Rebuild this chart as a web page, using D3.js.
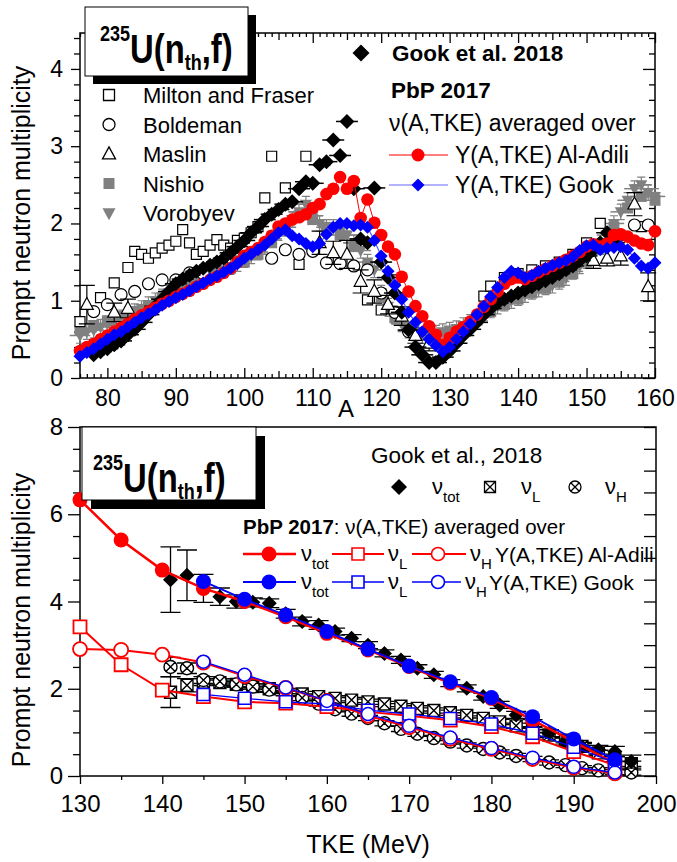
<!DOCTYPE html>
<html>
<head>
<meta charset="utf-8">
<script src="https://cdn.jsdelivr.net/npm/d3@7/dist/d3.min.js"></script>
<style>
  body { margin: 0; background: #fff; }
</style>
</head>
<body>
<svg id="chart" width="677" height="862"></svg>
<script>
// ---------- upper panel: nu versus mass number A ----------
var massPbP = d3.range(76, 161);
var nuAlAdili = [0.35,0.40,0.44,0.50,0.55,0.60,0.65,0.70,0.76,0.81,
  0.86,0.91,0.96,1.00,1.05,1.09,1.13,1.18,1.22,1.27,
  1.31,1.36,1.42,1.50,1.58,1.63,1.68,1.76,1.84,1.96,
  2.00,2.05,2.08,2.12,2.20,2.25,2.38,2.45,2.60,2.45,
  2.55,2.07,2.31,2.01,1.85,1.70,1.60,1.31,1.12,0.93,
  0.80,0.67,0.56,0.43,0.52,0.60,0.66,0.73,0.82,0.92,
  1.02,1.12,1.22,1.28,1.30,1.28,1.32,1.37,1.41,1.45,
  1.49,1.53,1.58,1.63,1.70,1.73,1.70,1.74,1.85,1.86,
  1.83,1.78,1.74,1.72,1.90];
var nuGookYield = [0.28,0.33,0.38,0.44,0.50,0.56,0.60,0.66,0.72,0.78,
  0.83,0.88,0.94,0.99,1.04,1.08,1.13,1.18,1.23,1.28,
  1.32,1.37,1.42,1.48,1.55,1.60,1.66,1.72,1.80,1.88,
  1.92,1.84,1.80,1.74,1.70,1.74,1.86,1.95,2.00,2.00,
  1.97,1.98,1.95,1.78,1.58,1.38,1.20,1.02,0.85,0.72,
  0.60,0.50,0.42,0.34,0.40,0.50,0.60,0.70,0.82,0.93,
  1.05,1.17,1.30,1.38,1.36,1.30,1.33,1.38,1.42,1.46,
  1.49,1.52,1.57,1.65,1.71,1.72,1.66,1.68,1.69,1.70,
  1.66,1.55,1.45,1.42,1.49];

var massGook = d3.range(78, 155);
var nuGook = [0.30,0.34,0.38,0.43,0.48,0.56,0.63,0.72,0.82,0.93,
  1.02,1.12,1.22,1.28,1.33,1.38,1.42,1.46,1.50,1.55,
  1.62,1.70,1.78,1.88,1.96,2.05,2.12,2.18,2.25,2.28,
  2.45,2.54,2.52,2.76,2.80,3.08,2.88,3.32,2.45,1.80,
  1.75,2.46,1.50,1.30,1.10,0.85,0.62,0.40,0.30,0.20,
  0.20,0.27,0.35,0.45,0.55,0.63,0.72,0.82,0.90,0.97,
  1.02,1.06,1.10,1.14,1.18,1.22,1.26,1.30,1.35,1.40,
  1.45,1.52,1.58,1.66,1.75,1.88,1.75];

var massVorobyev = d3.range(76, 161);
var nuVorobyev = [0.55,0.60,0.62,0.66,0.70,0.74,0.78,0.82,0.86,0.90,
  0.95,1.00,1.05,1.10,1.14,1.18,1.22,1.26,1.30,1.33,
  1.37,1.40,1.44,1.48,1.53,1.58,1.63,1.70,1.80,1.88,
  1.95,2.05,2.15,2.25,2.10,2.00,1.95,1.95,1.90,1.85,
  1.75,1.65,1.50,1.40,1.10,0.93,0.80,0.70,0.62,0.58,
  0.55,0.55,0.58,0.60,0.62,0.64,0.68,0.72,0.78,0.84,
  0.88,0.93,0.97,1.00,1.04,1.08,1.12,1.15,1.18,1.20,
  1.25,1.30,1.38,1.45,1.52,1.60,1.70,1.85,2.00,2.15,
  2.30,2.45,2.50,2.40,2.35];
var errVorobyev = 0.1;

var massNishio = d3.range(76, 161, 2);
var nuNishio = [0.62,0.68,0.74,0.80,0.86,0.92,1.02,1.12,1.20,1.28,
  1.35,1.42,1.50,1.60,1.75,1.90,2.10,2.05,1.95,1.85,
  1.70,1.45,1.05,0.78,0.62,0.55,0.55,0.60,0.66,0.75,
  0.86,0.95,1.02,1.10,1.16,1.24,1.35,1.50,1.68,1.95,
  2.20,2.35,2.30];

var massMilton = [76,79,81,83,84,85,86,87,88,89,90,91,92,93,94,95,96,97,98,99,
  100,101,102,103,104,106,108,109,118,120,122,135,136,138,140,142,144,146,148,150,152,158];
var nuMilton = [0.73,1.04,1.23,1.43,1.64,1.60,1.55,1.62,1.68,1.72,1.77,1.92,1.75,1.60,1.64,1.72,1.79,1.72,1.68,1.78,
  1.81,1.88,1.96,2.33,2.87,2.46,1.47,2.87,1.01,0.88,1.27,1.06,1.19,1.30,1.35,1.40,1.45,1.50,1.60,1.75,2.00,1.96];

var massBoldeman = [78,80,82,84,86,88,90,92,94,104,106,108,110,112,114,116,118,120,122,124,155,157,159];
var nuBoldeman = [0.86,0.95,1.08,1.12,1.22,1.27,1.27,1.36,1.35,1.55,1.66,1.60,1.64,1.49,1.48,1.45,1.40,1.10,0.85,0.60,1.85,1.98,1.98];

var massMaslin = [77,81,83,111,113,115,117,119,121,123,125,127,151,153,155,157,159];
var nuMaslin = [0.95,0.85,0.90,1.75,1.62,1.60,1.25,1.12,0.95,0.80,0.55,0.45,1.52,1.55,1.58,2.25,1.18];
var errMaslin = [0.25,0.12,0.12,0.15,0.15,0.18,0.15,0.15,0.12,0.12,0.10,0.10,0.10,0.10,0.12,0.15,0.18];

var massTicks = d3.range(80, 161, 10);
var nuTicksTop = [0, 1, 2, 3, 4];

// ---------- lower panel: nu versus TKE ----------
var tkeAlAdili = d3.range(130, 196, 5);
var totAlAdili = [6.33,5.41,4.72,4.30,4.00,3.65,3.27,2.89,2.51,2.13,1.78,1.28,0.79,0.29];
var lightAlAdili = [3.42,2.55,1.97,1.82,1.70,1.67,1.59,1.47,1.38,1.28,1.13,0.90,0.56,0.25];
var heavyAlAdili = [2.91,2.89,2.78,2.60,2.29,2.02,1.72,1.38,1.12,0.85,0.62,0.39,0.19,0.06];

var tkeGookY = d3.range(145, 196, 5);
var totGookY = [4.46,4.05,3.69,3.31,2.91,2.52,2.16,1.80,1.36,0.85,0.37];
var lightGookY = [1.87,1.78,1.70,1.65,1.51,1.42,1.32,1.19,0.98,0.66,0.31];
var heavyGookY = [2.62,2.32,2.03,1.72,1.42,1.15,0.88,0.64,0.42,0.21,0.08];

var tkeExp = d3.range(141, 198, 2);
var totExp = [4.50,4.60,4.30,4.11,4.00,3.98,3.96,3.72,3.54,3.46,
  3.31,3.16,3.00,2.81,2.66,2.47,2.32,2.13,2.01,1.82,
  1.63,1.40,1.21,0.98,0.79,0.67,0.60,0.56,0.33];
var errTotExp = [0.75,0.58,0.32,0.20,0.15,0.10,0.10,0.10,0.10,0.10,
  0.08,0.08,0.08,0.08,0.08,0.08,0.08,0.08,0.08,0.08,
  0.08,0.08,0.08,0.08,0.08,0.10,0.10,0.12,0.15];
var lightExp = [1.92,2.08,2.15,2.14,2.10,2.05,2.00,1.95,1.88,1.82,
  1.78,1.74,1.70,1.65,1.60,1.55,1.50,1.45,1.39,1.32,
  1.24,1.15,1.05,0.94,0.82,0.68,0.53,0.39,0.28];
var heavyExp = [2.50,2.47,2.20,2.17,2.10,2.05,1.98,1.90,1.79,1.66,
  1.53,1.43,1.33,1.21,1.08,0.97,0.87,0.79,0.70,0.62,
  0.54,0.46,0.39,0.31,0.25,0.18,0.13,0.09,0.08];
var errLightExp = [0.35,0.15,0.08,0.06,0.06,0.06,0.06,0.06,0.06,0.06,
  0.06,0.06,0.06,0.06,0.06,0.06,0.06,0.06,0.06,0.06,
  0.06,0.06,0.06,0.06,0.06,0.06,0.06,0.06,0.06];
var errHeavyExp = [0.22,0.12,0.08,0.06,0.06,0.06,0.06,0.06,0.06,0.06,
  0.06,0.06,0.06,0.06,0.06,0.06,0.06,0.06,0.06,0.06,
  0.06,0.06,0.06,0.06,0.06,0.06,0.06,0.06,0.06];

var tkeTicks = d3.range(130, 201, 10);
var nuTicksBottom = [0, 2, 4, 6, 8];

// ---------- setup ----------
var FONT = '"Liberation Sans", Arial, Helvetica, sans-serif';
var svg = d3.select("#chart").attr("font-family", FONT);
var RED = "#ff0000", BLUE = "#0000ff", GRAY = "#808080";

var xA = d3.scaleLinear().domain([76, 160]).range([80, 655]);
var yA = d3.scaleLinear().domain([0, 4.465]).range([378, 33]);
var xT = d3.scaleLinear().domain([130, 200]).range([80, 656]);
var yT = d3.scaleLinear().domain([0, 8]).range([776, 427]);

function shape(type, s) {
  if (type == "square") return "M" + (-s) + "," + (-s) + "H" + s + "V" + s + "H" + (-s) + "Z";
  if (type == "diamond") return "M0," + (-s) + "L" + s + ",0L0," + s + "L" + (-s) + ",0Z";
  if (type == "up") return "M0," + (-s * 1.1) + "L" + s + "," + (s * 0.75) + "L" + (-s) + "," + (s * 0.75) + "Z";
  if (type == "down") return "M0," + (s * 1.1) + "L" + s + "," + (-s * 0.75) + "L" + (-s) + "," + (-s * 0.75) + "Z";
  if (type == "circle") return "M" + s + ",0A" + s + "," + s + " 0 1,1 " + (-s) + ",0A" + s + "," + s + " 0 1,1 " + s + ",0Z";
  if (type == "xsquare") return shape("square", s) + "M" + (-s) + "," + (-s) + "L" + s + "," + s + "M" + s + "," + (-s) + "L" + (-s) + "," + s;
  if (type == "xcircle") { var c = s * 0.707; return shape("circle", s) + "M" + (-c) + "," + (-c) + "L" + c + "," + c + "M" + c + "," + (-c) + "L" + (-c) + "," + c; }
}

function markers(g, xs, ys, sx, sy, type, s, fill, stroke, sw) {
  g.selectAll(null).data(xs).enter().append("path")
    .attr("d", shape(type, s))
    .attr("transform", function(d, i) { return "translate(" + sx(d) + "," + sy(ys[i]) + ")"; })
    .attr("fill", fill).attr("stroke", stroke).attr("stroke-width", sw);
}

function line(g, xs, ys, sx, sy, color, w) {
  g.append("path").datum(xs)
    .attr("d", d3.line().x(function(d) { return sx(d); }).y(function(d, i) { return sy(ys[i]); }))
    .attr("fill", "none").attr("stroke", color).attr("stroke-width", w);
}

function vErr(g, xs, ys, es, sx, sy, cap, color, w) {
  xs.forEach(function(d, i) {
    var e = Array.isArray(es) ? es[i] : es;
    var x = sx(d), y0 = sy(ys[i] - e), y1 = sy(ys[i] + e);
    g.append("path")
      .attr("d", "M" + x + "," + y0 + "V" + y1 + "M" + (x - cap) + "," + y0 + "h" + 2 * cap + "M" + (x - cap) + "," + y1 + "h" + 2 * cap)
      .attr("stroke", color).attr("stroke-width", w).attr("fill", "none");
  });
}

function hErr(g, xs, ys, e, sx, sy, color, w) {
  g.selectAll(null).data(xs).enter().append("line")
    .attr("x1", function(d) { return sx(d - e); }).attr("x2", function(d) { return sx(d + e); })
    .attr("y1", function(d, i) { return sy(ys[i]); }).attr("y2", function(d, i) { return sy(ys[i]); })
    .attr("stroke", color).attr("stroke-width", w);
}

function axis(gen, tx, ty, fs) {
  var g = svg.append("g").attr("transform", "translate(" + tx + "," + ty + ")").call(gen);
  g.select(".domain").remove();
  g.selectAll("line").attr("stroke-width", 1.3);
  g.selectAll("text").attr("font-size", fs).attr("font-family", FONT).attr("fill", "#000");
  return g;
}

// ---------- upper panel axes ----------
var minorA = d3.range(76, 161).filter(function(d) { return d % 5 != 0; });
var midA = d3.range(80, 161, 5).filter(function(d) { return d % 10 != 0; });
var minorNuTop = d3.range(0, 23).map(function(d) { return +(d * 0.2).toFixed(1); }).filter(function(d) { return d % 1 != 0; });

axis(d3.axisBottom(xA).tickValues(massTicks).tickSize(-10).tickPadding(12).tickFormat(d3.format("d")), 0, 378, 23);
axis(d3.axisBottom(xA).tickValues(midA).tickSize(-7).tickFormat(""), 0, 378, 23);
axis(d3.axisBottom(xA).tickValues(minorA).tickSize(-4).tickFormat(""), 0, 378, 23);
axis(d3.axisTop(xA).tickValues(massTicks).tickSize(-10).tickFormat(""), 0, 33, 23);
axis(d3.axisTop(xA).tickValues(midA).tickSize(-7).tickFormat(""), 0, 33, 23);
axis(d3.axisTop(xA).tickValues(minorA).tickSize(-4).tickFormat(""), 0, 33, 23);
axis(d3.axisLeft(yA).tickValues(nuTicksTop).tickSize(9).tickPadding(8).tickFormat(d3.format("d")), 80, 0, 23);
axis(d3.axisLeft(yA).tickValues(minorNuTop).tickSize(6).tickFormat(""), 80, 0, 23);
axis(d3.axisRight(yA).tickValues(nuTicksTop).tickSize(-12).tickFormat(""), 655, 0, 23);
axis(d3.axisRight(yA).tickValues(minorNuTop).tickSize(-6).tickFormat(""), 655, 0, 23);

svg.append("rect").attr("x", 80).attr("y", 33).attr("width", 575).attr("height", 345)
  .attr("fill", "none").attr("stroke", "#000").attr("stroke-width", 1.5);

svg.append("text").attr("x", 346).attr("y", 417).attr("font-size", 24).attr("text-anchor", "middle").text("A");

// ---------- upper panel data ----------
var gA = svg.append("g");
markers(gA, massNishio, nuNishio, xA, yA, "square", 5.5, GRAY, "none", 0);
hErr(gA, massVorobyev, nuVorobyev, 1.5, xA, yA, GRAY, 1.5);
vErr(gA, massVorobyev, nuVorobyev, errVorobyev, xA, yA, 4, GRAY, 1.2);
markers(gA, massVorobyev, nuVorobyev, xA, yA, "down", 6, GRAY, "none", 0);
markers(gA, massMilton, nuMilton, xA, yA, "square", 5, "#fff", "#000", 1.2);
markers(gA, massBoldeman, nuBoldeman, xA, yA, "circle", 6, "#fff", "#000", 1.2);
vErr(gA, massMaslin, nuMaslin, errMaslin, xA, yA, 8, "#000", 1.2);
markers(gA, massMaslin, nuMaslin, xA, yA, "up", 6.5, "#fff", "#000", 1.2);
hErr(gA, massGook, nuGook, 1.6, xA, yA, "#000", 1.5);
markers(gA, massGook, nuGook, xA, yA, "diamond", 7.5, "#000", "none", 0);
line(gA, massPbP, nuAlAdili, xA, yA, RED, 1);
markers(gA, massPbP, nuAlAdili, xA, yA, "circle", 6.3, RED, "none", 0);
line(gA, massPbP, nuGookYield, xA, yA, "#5555ff", 1.2);
markers(gA, massPbP, nuGookYield, xA, yA, "diamond", 6.5, BLUE, "none", 0);

// ---------- upper panel legends ----------
var legLeft = [["square", "Milton and Fraser", "#fff", "#000"], ["circle", "Boldeman", "#fff", "#000"],
  ["up", "Maslin", "#fff", "#000"], ["square", "Nishio", GRAY, "none"], ["down", "Vorobyev", GRAY, "none"]];
legLeft.forEach(function(d, i) {
  var cy = 95 + i * 29.5;
  var s = d[0] == "circle" ? 6 : (d[0] == "square" ? 5.5 : 6.5);
  svg.append("path").attr("d", shape(d[0], s)).attr("transform", "translate(109," + cy + ")")
    .attr("fill", d[2]).attr("stroke", d[3]).attr("stroke-width", 1.3);
  svg.append("text").attr("x", 143).attr("y", cy + 8).attr("font-size", 22).text(d[1]);
});

svg.append("path").attr("d", shape("diamond", 8.5)).attr("transform", "translate(361,53)").attr("fill", "#000");
svg.append("text").attr("x", 392).attr("y", 61).attr("font-size", 22.5).attr("font-weight", "bold").text("Gook et al. 2018");
svg.append("text").attr("x", 391).attr("y", 98).attr("font-size", 22.5).attr("font-weight", "bold").text("PbP 2017");
svg.append("text").attr("x", 389).attr("y", 131).attr("font-size", 23).text("ν(A,TKE) averaged over");
svg.append("line").attr("x1", 389).attr("x2", 448).attr("y1", 155).attr("y2", 155).attr("stroke", RED).attr("stroke-width", 1.2);
svg.append("path").attr("d", shape("circle", 6.5)).attr("transform", "translate(418,155)").attr("fill", RED);
svg.append("text").attr("x", 455).attr("y", 163).attr("font-size", 23).text("Y(A,TKE) Al-Adili");
svg.append("line").attr("x1", 389).attr("x2", 448).attr("y1", 185).attr("y2", 185).attr("stroke", "#6666ff").attr("stroke-width", 1.2);
svg.append("path").attr("d", shape("diamond", 6.5)).attr("transform", "translate(418,185)").attr("fill", BLUE);
svg.append("text").attr("x", 455).attr("y", 193).attr("font-size", 23).text("Y(A,TKE) Gook");

// ---------- lower panel axes ----------
var minorTke = d3.range(135, 200, 10);
var minorNuBottom = d3.range(0, 17).map(function(d) { return d * 0.5; }).filter(function(d) { return d % 2 != 0; });
var allNuBottom = d3.range(0, 17).map(function(d) { return d * 0.5; });

axis(d3.axisBottom(xT).tickValues(tkeTicks).tickSize(8).tickPadding(11).tickFormat(d3.format("d")), 0, 776, 24);
axis(d3.axisBottom(xT).tickValues(minorTke).tickSize(4).tickFormat(""), 0, 776, 24);
axis(d3.axisLeft(yT).tickValues(nuTicksBottom).tickSize(12).tickPadding(5).tickFormat(d3.format("d")), 80, 0, 24);
axis(d3.axisLeft(yT).tickValues(minorNuBottom).tickSize(7).tickFormat(""), 80, 0, 24);
axis(d3.axisRight(yT).tickValues(allNuBottom).tickSize(-12).tickFormat(""), 656, 0, 24);

svg.append("rect").attr("x", 80).attr("y", 427).attr("width", 576).attr("height", 349)
  .attr("fill", "none").attr("stroke", "#000").attr("stroke-width", 1.5);

svg.append("text").attr("x", 368).attr("y", 853).attr("font-size", 25).attr("text-anchor", "middle").text("TKE (MeV)");

// ---------- lower panel data ----------
var gT = svg.append("g");
vErr(gT, tkeExp, lightExp, errLightExp, xT, yT, 10, "#000", 1.3);
vErr(gT, tkeExp, heavyExp, errHeavyExp, xT, yT, 10, "#000", 1.3);
markers(gT, tkeExp, lightExp, xT, yT, "xsquare", 6, "#fff", "#000", 1.4);
markers(gT, tkeExp, heavyExp, xT, yT, "xcircle", 6.5, "#fff", "#000", 1.4);
vErr(gT, tkeExp, totExp, errTotExp, xT, yT, 10, "#000", 1.3);
markers(gT, tkeExp, totExp, xT, yT, "diamond", 7.5, "#000", "none", 0);

line(gT, tkeAlAdili, lightAlAdili, xT, yT, RED, 2);
line(gT, tkeAlAdili, heavyAlAdili, xT, yT, RED, 2);
line(gT, tkeAlAdili, totAlAdili, xT, yT, RED, 2.5);
markers(gT, tkeAlAdili, lightAlAdili, xT, yT, "square", 6.5, "#fff", RED, 1.8);
markers(gT, tkeAlAdili, heavyAlAdili, xT, yT, "circle", 7, "#fff", RED, 1.8);
markers(gT, tkeAlAdili, totAlAdili, xT, yT, "circle", 7.5, RED, "none", 0);

line(gT, tkeGookY, lightGookY, xT, yT, BLUE, 1.3);
line(gT, tkeGookY, heavyGookY, xT, yT, BLUE, 1.3);
line(gT, tkeGookY, totGookY, xT, yT, BLUE, 1.8);
markers(gT, tkeGookY, lightGookY, xT, yT, "square", 6, "#fff", BLUE, 1.5);
markers(gT, tkeGookY, heavyGookY, xT, yT, "circle", 6.5, "#fff", BLUE, 1.5);
markers(gT, tkeGookY, totGookY, xT, yT, "circle", 7.5, BLUE, "none", 0);

// ---------- lower panel legends ----------
function nuLabel(x, y, sub) {
  var t = svg.append("text").attr("x", x).attr("y", y).attr("font-size", 22);
  t.append("tspan").text("ν");
  t.append("tspan").attr("font-size", 15).attr("dy", 8).text(sub);
}
svg.append("text").attr("x", 371).attr("y", 463).attr("font-size", 22.5).text("Gook et al., 2018");
svg.append("path").attr("d", shape("diamond", 8)).attr("transform", "translate(399,487)").attr("fill", "#000");
nuLabel(432, 494, "tot");
svg.append("path").attr("d", shape("xsquare", 5.5)).attr("transform", "translate(490,487)").attr("fill", "#fff").attr("stroke", "#000").attr("stroke-width", 1.3);
nuLabel(521, 494, "L");
svg.append("path").attr("d", shape("xcircle", 6)).attr("transform", "translate(575,487)").attr("fill", "#fff").attr("stroke", "#000").attr("stroke-width", 1.3);
nuLabel(605, 494, "H");

var pbpText = svg.append("text").attr("x", 243).attr("y", 534).attr("font-size", 20.5);
pbpText.append("tspan").attr("font-weight", "bold").text("PbP 2017");
pbpText.append("tspan").text(": ν(A,TKE) averaged over");

[[554, RED, 2.5, 2, 470, 495, "Y(A,TKE) Al-Adili"], [582, BLUE, 1.8, 1.3, 465, 489, "Y(A,TKE) Gook"]].forEach(function(r) {
  var cy = r[0], c = r[1];
  svg.append("line").attr("x1", 243).attr("x2", 296).attr("y1", cy).attr("y2", cy).attr("stroke", c).attr("stroke-width", r[2]);
  svg.append("path").attr("d", shape("circle", 7.5)).attr("transform", "translate(269," + cy + ")").attr("fill", c);
  nuLabel(301, cy + 7, "tot");
  svg.append("line").attr("x1", 332).attr("x2", 384).attr("y1", cy).attr("y2", cy).attr("stroke", c).attr("stroke-width", r[3]);
  svg.append("path").attr("d", shape("square", 6)).attr("transform", "translate(358," + cy + ")").attr("fill", "#fff").attr("stroke", c).attr("stroke-width", 1.6);
  nuLabel(388, cy + 7, "L");
  svg.append("line").attr("x1", 412).attr("x2", r[4] - 4).attr("y1", cy).attr("y2", cy).attr("stroke", c).attr("stroke-width", r[3]);
  svg.append("path").attr("d", shape("circle", 6.5)).attr("transform", "translate(438," + cy + ")").attr("fill", "#fff").attr("stroke", c).attr("stroke-width", 1.6);
  nuLabel(r[4], cy + 7, "H");
  svg.append("text").attr("x", r[5]).attr("y", cy + 8).attr("font-size", 21).text(r[6]);
});

// ---------- titles ----------
function titleBox(x0, y0, w, h, off, tx, ty) {
  svg.append("rect").attr("x", x0 + off).attr("y", y0 + off).attr("width", w).attr("height", h).attr("fill", "#000");
  svg.append("rect").attr("x", x0).attr("y", y0).attr("width", w).attr("height", h)
    .attr("fill", "#fff").attr("stroke", "#000").attr("stroke-width", 1);
  var t = svg.append("text").attr("transform", "translate(" + tx + "," + ty + ") scale(0.82,1)")
    .attr("font-size", 40).attr("font-weight", "bold");
  t.append("tspan").attr("font-size", 22).attr("dy", -22).text("235");
  t.append("tspan").attr("dy", 22).text("U(n");
  t.append("tspan").attr("font-size", 22).attr("dy", 7).text("th");
  t.append("tspan").attr("dy", -7).text(",f)");
}
titleBox(85, 7, 163, 69, 8, 100, 63);
titleBox(82, 427, 174, 73, 9, 93, 492);

svg.append("text").attr("transform", "translate(30,213) rotate(-90)").attr("font-size", 25)
  .attr("text-anchor", "middle").text("Prompt neutron multiplicity");
svg.append("text").attr("transform", "translate(30,620) rotate(-90)").attr("font-size", 25)
  .attr("text-anchor", "middle").text("Prompt neutron multiplicity");
</script>
</body>
</html>
